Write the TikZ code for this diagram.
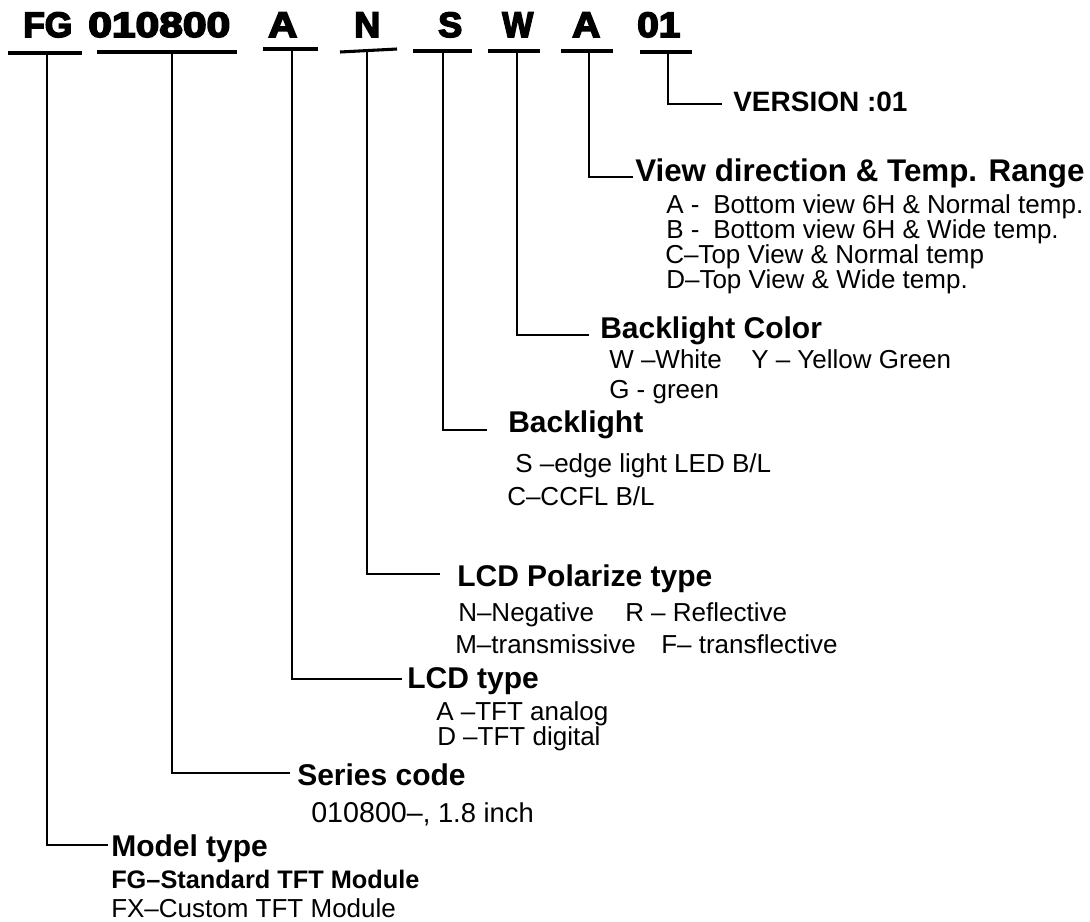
\documentclass[tikz,border=0pt]{standalone}
\usepackage{fontspec}
\setmainfont{Liberation Sans}
\newfontfamily\heavy{Liberation Sans}[BoldFeatures={FakeBold=4.5}]
\usetikzlibrary{calc}
\tikzset{
  hdr/.style={anchor=base west, inner sep=0pt, font=\heavy\bfseries\fontsize{25}{30}\selectfont},
  ttl/.style={anchor=base west, inner sep=0pt, font=\bfseries\fontsize{22.5}{27}\selectfont},
  sub/.style={anchor=base west, inner sep=0pt, font=\fontsize{19.5}{23}\selectfont},
  subb/.style={anchor=base west, inner sep=0pt, font=\bfseries\fontsize{19}{23}\selectfont},
  bar/.style={line width=2.3pt},
  lead/.style={line width=1.7pt, line join=miter},
}
\begin{document}
\begin{tikzpicture}[x=0.75pt,y=-0.75pt]
\useasboundingbox (0,0) rectangle (1090,922);

% header code
\node[hdr] (hFG) at (23,37) {\resizebox{36.75pt}{18.5pt}{FG}};
\node[hdr] (hSer) at (88,37) {\resizebox{106.5pt}{18.5pt}{010800}};
\node[hdr] (hA) at (268,37) {\resizebox{21.75pt}{18.5pt}{A}};
\node[hdr] (hN) at (354,37) {\resizebox{19.5pt}{18.5pt}{N}};
\node[hdr] (hS) at (438,37) {\resizebox{18pt}{18.5pt}{S}};
\node[hdr] (hW) at (502,37) {\resizebox{23.25pt}{18.5pt}{W}};
\node[hdr] (hV) at (572,37) {\resizebox{21pt}{18.5pt}{A}};
\node[hdr] (h01) at (637,37) {\resizebox{32.25pt}{18.5pt}{01}};

% underline bars
\draw[bar] (8,53) -- (82,53);
\draw[bar] (97,52) -- (237,52);
\draw[bar] (263,49) -- (318,49);
\draw[bar] (340,52) -- (397,49);
\draw[bar] (413,51) -- (472,51);
\draw[bar] (488,51) -- (540,51);
\draw[bar] (561,51) -- (613,51);
\draw[bar] (640,52) -- (692,52);

% bar tap points
\coordinate (bFG) at (47,53);
\coordinate (bSer) at (172,52);
\coordinate (bA) at (292,49);
\coordinate (bN) at (367,50.6);
\coordinate (bS) at (443,51);
\coordinate (bW) at (517,51);
\coordinate (bV) at (589,51);
\coordinate (b01) at (668,52);

% leader ends
\coordinate (eFG) at (108,845);
\coordinate (eSer) at (290,773);
\coordinate (eA) at (402,679);
\coordinate (eN) at (440,574);
\coordinate (eS) at (487,430);
\coordinate (eW) at (589,335);
\coordinate (eV) at (633,177);
\coordinate (e01) at (722,104);

\draw[lead] (b01) |- (e01);
\draw[lead] (bV) |- (eV);
\draw[lead] (bW) |- (eW);
\draw[lead] (bS) |- (eS);
\draw[lead] (bN) |- (eN);
\draw[lead] (bA) |- (eA);
\draw[lead] (bSer) |- (eSer);
\draw[lead] (bFG) |- (eFG);

% titles
\node[ttl, font=\bfseries\fontsize{21}{25}\selectfont] (tVer) at (733,111) {VERSION :01};
\node[ttl, font=\bfseries\fontsize{23.5}{28}\selectfont] (tView) at (635,181) {View direction \& Temp. Range};
\node[ttl] (tCol) at (600,338) {Backlight Color};
\node[ttl] (tBL) at (508,432) {Backlight};
\node[ttl] (tPol) at (457,586) {LCD Polarize type};
\node[ttl] (tLCD) at (407,688) {LCD type};
\node[ttl] (tSer) at (297,785) {Series code};
\node[ttl] (tMod) at (111,856) {Model type};

% view direction options
\node[sub] (vA) at (666,213) {A -\hspace{5pt} Bottom view 6H \& Normal temp.};
\node[sub] (vB) at (666,238) {B -\hspace{5pt} Bottom view 6H \& Wide temp.};
\node[sub] (vC) at (665,263) {C–Top View \& Normal temp};
\node[sub] (vD) at (666,288) {D–Top View \& Wide temp.};

% backlight colour
\node[sub] (cW) at (609,368) {W –White};
\node[sub] (cY) at (751,368) {Y – Yellow Green};
\node[sub] (cG) at (609,398) {G - green};

% backlight
\node[sub] (lS) at (515,472) {S –edge light LED B/L};
\node[sub] (lC) at (507,505) {C–CCFL B/L};

% polarizer
\node[sub] (pN) at (458,621) {N–Negative};
\node[sub] (pR) at (625,621) {R – Reflective};
\node[sub] (pM) at (455,653) {M–transmissive};
\node[sub] (pF) at (661,653) {F– transflective};

% lcd type
\node[sub] (lA) at (436,720) {A –TFT analog};
\node[sub] (lD) at (437,745) {D –TFT digital};

% series
\node[sub] (sC) at (311,822) {{\fontsize{21.5}{25}\selectfont 010800–}{\fontsize{20.5}{24}\selectfont, 1.8 inch}};

% model type
\node[subb] (mFG) at (111,888) {FG–Standard TFT Module};
\node[sub] (mFX) at (111,917) {FX–Custom TFT Module};
\end{tikzpicture}
\end{document}
